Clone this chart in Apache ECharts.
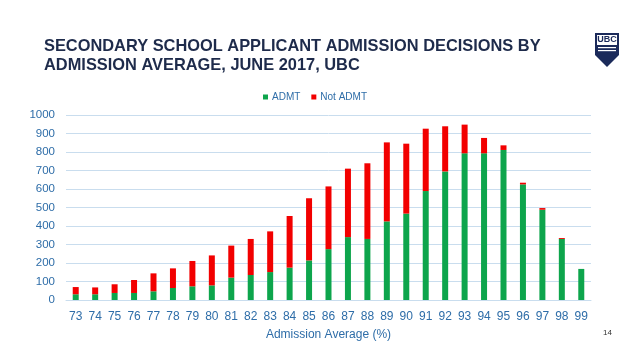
<!DOCTYPE html>
<html><head><meta charset="utf-8">
<script src="https://cdn.jsdelivr.net/npm/echarts@6/dist/echarts.min.js"></script>
<style>html,body{margin:0;padding:0;background:#fff}#c{width:638px;height:359px}</style>
</head><body><div id="c"></div>
<script>
const categories = ['73','74','75','76','77','78','79','80','81','82','83','84','85','86','87','88','89','90','91','92','93','94','95','96','97','98','99'];
const admt =    [31,31,38,38,47,65,74,79,121,135,151,175,214,275,340,330,425,467,589,695,793,793,811,625,488,330,168];
const notAdmt = [39,37,47,70,97,106,137,162,173,195,220,279,336,339,370,409,427,378,337,244,155,83,25,9,9,5,0];
const yTicks = [0,100,200,300,400,500,600,700,800,900,1000];

const chart = echarts.init(document.getElementById('c'));
const blue = '#2E6DA8';
chart.setOption({
  animation:false,
  title:{text:'SECONDARY SCHOOL APPLICANT ADMISSION DECISIONS BY\nADMISSION AVERAGE, JUNE 2017, UBC',left:39,top:32,
    textStyle:{fontFamily:'Liberation Sans',fontWeight:'bold',fontSize:16.4,color:'#1E2B4B',lineHeight:19}},
  legend:{top:87,left:258,itemWidth:5,itemHeight:5,itemGap:11,icon:'rect',
    textStyle:{color:blue,fontSize:10,fontFamily:'Liberation Sans',padding:[0,0,0,-1]},
    data:['ADMT','Not ADMT']},
  grid:{left:66,right:47,top:115,bottom:59},
  xAxis:{type:'category',data:categories,
    axisLine:{lineStyle:{color:'#C9DDEE'}},axisTick:{show:false},
    axisLabel:{color:blue,fontSize:12,fontFamily:'Liberation Sans',margin:11},
    name:'Admission Average (%)',nameLocation:'middle',nameGap:29,
    nameTextStyle:{color:blue,fontSize:12,fontFamily:'Liberation Sans'}},
  yAxis:{type:'value',min:yTicks[0],max:yTicks[yTicks.length-1],interval:100,
    axisLine:{show:false},axisTick:{show:false},
    splitLine:{lineStyle:{color:'#C9DDEE'}},
    axisLabel:{color:blue,fontSize:11.5,fontFamily:'Liberation Sans',margin:11,formatter:v=>String(v)}},
  series:[
    {name:'ADMT',type:'bar',stack:'t',data:admt,barWidth:6,itemStyle:{color:'#0DA54C'}},
    {name:'Not ADMT',type:'bar',stack:'t',data:notAdmt,barWidth:6,itemStyle:{color:'#F20000'}}
  ],
  graphic:[
    {type:'text',left:603,top:329,style:{text:'14',fontSize:8,fill:'#333',fontFamily:'Liberation Sans'}},
    {type:'group',left:595,top:33,children:[
      {type:'polygon',shape:{points:[[0,0],[24,0],[24,22],[12,34],[0,22]]},style:{fill:'#1B2A5A'}},
      {type:'rect',shape:{x:2,y:2,width:20,height:10},style:{fill:'#fff'}},
      {type:'text',style:{x:12,y:7,text:'UBC',fontSize:9,fontWeight:'bold',fill:'#1B2A5A',align:'center',verticalAlign:'middle',fontFamily:'Liberation Sans'}},
      {type:'rect',shape:{x:3,y:14,width:18,height:1.2},style:{fill:'#fff'}},
      {type:'rect',shape:{x:3,y:17,width:18,height:1.2},style:{fill:'#fff'}}
    ]}
  ]
});
</script></body></html>
